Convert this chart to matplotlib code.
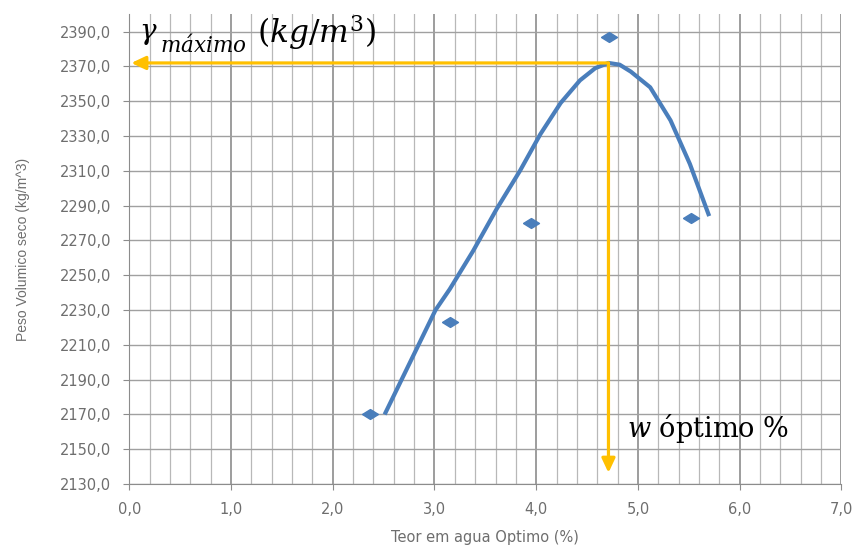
import numpy as np
import matplotlib.pyplot as plt
from matplotlib.ticker import MultipleLocator, FuncFormatter

# ensaio (pontos medidos)
teor_agua = [2.37, 3.15, 3.95, 4.72, 5.52]
peso_vol = [2170, 2223, 2280, 2387, 2283]

# curva de compactacao
curva_x = [2.51, 3.01, 3.15, 3.38, 3.61, 3.84, 4.04, 4.24, 4.43, 4.58, 4.71,
           4.82, 4.93, 5.12, 5.32, 5.51, 5.70]
curva_y = [2170, 2230, 2242, 2264, 2288, 2310, 2331, 2349, 2362, 2369, 2372,
           2371, 2367, 2358, 2339, 2314, 2284]

w_opt = 4.71
gamma_max = 2372

fig = plt.figure(figsize=(8.56, 5.47), dpi=100)
ax = fig.add_axes([0.151, 0.115, 0.832, 0.859])

ax.set_xlim(0, 7)
ax.set_ylim(2130, 2400)
ax.xaxis.set_major_locator(MultipleLocator(1))
ax.xaxis.set_minor_locator(MultipleLocator(0.2))
ax.set_yticks(np.arange(2130, 2391, 20))
fmt = FuncFormatter(lambda v, p: f"{v:.1f}".replace('.', ','))
ax.xaxis.set_major_formatter(fmt)
ax.yaxis.set_major_formatter(fmt)

ax.grid(True, which='major', axis='x', color='#8c8c8c', lw=1.2)
ax.grid(True, which='minor', axis='x', color='#b8b8b8', lw=0.9)
ax.grid(True, which='major', axis='y', color='#a0a0a0', lw=1.0)
ax.set_axisbelow(True)

for s in ax.spines.values():
    s.set_visible(False)
for side in ['left', 'bottom']:
    ax.spines[side].set_visible(True)
    ax.spines[side].set_color('#8c8c8c')
ax.tick_params(which='major', length=4, color='#8c8c8c', labelsize=10.5,
               labelcolor='#6e6e6e')
ax.tick_params(which='minor', length=0)
ax.tick_params(axis='x', pad=9)
ax.tick_params(axis='y', pad=9)

diamante = [(-1, 0), (0, 0.62), (1, 0), (0, -0.62), (-1, 0)]
ax.plot(curva_x, curva_y, color='#4a7ebb', lw=3, solid_capstyle='butt',
        solid_joinstyle='round')
ax.plot(teor_agua, peso_vol, ls='none', marker=diamante, color='#4a7ebb',
        ms=11.5, mec='#4a7ebb')

# setas
seta = dict(arrowstyle='-|>,head_length=0.85,head_width=0.4',
            color='#ffc000', lw=2.3, shrinkA=0, shrinkB=0)
ax.annotate('', xy=(0.02, gamma_max), xytext=(w_opt, gamma_max), arrowprops=seta)
ax.annotate('', xy=(w_opt, 2136.5), xytext=(w_opt, gamma_max), arrowprops=seta)

ax.text(0.10, 2386, r'$\gamma$', fontsize=20, va='baseline', ha='left',
        math_fontfamily='dejavuserif')
ax.text(0.30, 2378.5, r'$máximo$', fontsize=15.5, va='baseline', ha='left',
        math_fontfamily='dejavuserif')
ax.text(1.26, 2383.5, r'$(kg/m^3)$', fontsize=22.5, va='baseline', ha='left',
        math_fontfamily='dejavuserif')
ax.text(4.89, 2157, r'$w$ óptimo %', fontsize=19.5, va='baseline', ha='left',
        family='DejaVu Serif', math_fontfamily='dejavuserif')

ax.set_xlabel('Teor em agua Optimo (%)', fontsize=10.5, color='#6e6e6e',
              labelpad=9)
ax.set_ylabel('Peso Volumico seco (kg/m^3)', fontsize=10, color='#6e6e6e',
              family=['Liberation Sans', 'DejaVu Sans'])
ax.yaxis.set_label_coords(-0.139, 0.5)

fig.savefig('out.png', dpi=100)
